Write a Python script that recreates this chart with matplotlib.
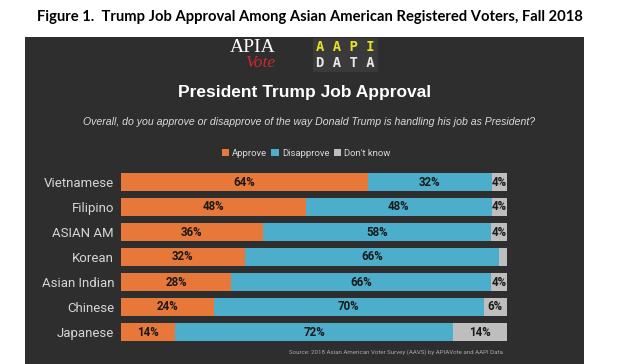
import matplotlib
matplotlib.use("Agg")
import matplotlib.pyplot as plt
from matplotlib.patches import Rectangle, Patch
import numpy as np

categories = ["Vietnamese", "Filipino", "ASIAN AM", "Korean", "Asian Indian", "Chinese", "Japanese"]
approve = [64, 48, 36, 32, 28, 24, 14]
disapprove = [32, 48, 58, 66, 66, 70, 72]
dont_know = [4, 4, 4, 2, 4, 6, 14]
series_names = ["Approve", "Disapprove", "Don't know"]

C_APP = "#E8773A"
C_DIS = "#4DAECB"
C_DK = "#BEBEBE"
BG = "#2E2E2E"
NARROW = "Roboto"

W, H = 631, 364
fig = plt.figure(figsize=(W / 100, H / 100), dpi=100)
fig.patch.set_facecolor("white")

def fx(px):
    return px / W

def fy(py):
    return 1 - py / H

# dark panel
fig.patches.append(Rectangle((fx(25), 0), fx(584) - fx(25), fy(37), transform=fig.transFigure,
                             facecolor=BG, edgecolor="none", zorder=0))

fig.text(fx(310), fy(17), "Figure 1.  Trump Job Approval Among Asian American Registered Voters, Fall 2018",
         ha="center", va="center", fontsize=10.6, fontweight="bold", family="Lato", color="black")

# logos
fig.text(fx(253), fy(48), "APIA", ha="center", va="center", fontsize=14, family="Liberation Serif",
         color="white")
fig.text(fx(260), fy(63), "Vote", ha="center", va="center", fontsize=12.5, family="Liberation Serif",
         style="italic", color="#C8282E")
fig.patches.append(Rectangle((fx(313), fy(72)), fx(378) - fx(313), fy(38) - fy(72), transform=fig.transFigure,
                             facecolor="#3A3A3A", edgecolor="none", zorder=1))
fig.text(fx(345), fy(47), "A A P I", ha="center", va="center", fontsize=10, family="DejaVu Sans Mono",
         fontweight="bold", color="#E6E221", zorder=2)
fig.text(fx(345), fy(63), "D A T A", ha="center", va="center", fontsize=10, family="DejaVu Sans Mono",
         fontweight="bold", color="#E8E8E8", zorder=2)

fig.text(fx(305), fy(92), "President Trump Job Approval", ha="center", va="center", fontsize=12.5,
         fontweight="bold", family="Liberation Sans", color="white")
fig.text(fx(309), fy(122), "Overall, do you approve or disapprove of the way Donald Trump is handling his job as President?",
         ha="center", va="center", fontsize=7.6, style="italic", family="Liberation Sans", color="#DADADA")

handles = [Patch(facecolor=c, edgecolor="none") for c in (C_APP, C_DIS, C_DK)]
leg = fig.legend(handles, series_names, loc="center", bbox_to_anchor=(fx(306), fy(153)), ncol=3,
                 frameon=False, handlelength=0.8, handleheight=0.8, handletextpad=0.3,
                 columnspacing=0.45, prop={"family": NARROW, "size": 6.8})
for t in leg.get_texts():
    t.set_color("#DADADA")

# bars axes
ax = fig.add_axes([fx(121), fy(344.5), fx(507) - fx(121), 175 / H])
ax.set_zorder(3)
ax.set_facecolor("none")
y = np.arange(len(categories))
app = np.array(approve, float)
dis = np.array(disapprove, float)
dk = np.array(dont_know, float)
tot = app + dis + dk
a_s, d_s, k_s = app / tot * 100, dis / tot * 100, dk / tot * 100

h = 0.7
ax.barh(y, a_s, height=h, color=C_APP, edgecolor="none")
ax.barh(y, d_s, left=a_s, height=h, color=C_DIS, edgecolor="none")
ax.barh(y, k_s, left=a_s + d_s, height=h, color=C_DK, edgecolor="none")

lab_kw = dict(ha="center", va="center", fontsize=8.3, fontweight="bold", family=NARROW,
              color="#1A1A1A")
for i in range(len(categories)):
    ax.text(a_s[i] / 2, y[i], f"{approve[i]}%", **lab_kw)
    ax.text(a_s[i] + d_s[i] / 2, y[i], f"{disapprove[i]}%", **lab_kw)
    if dont_know[i] >= 3:
        ax.text(a_s[i] + d_s[i] + k_s[i] / 2, y[i], f"{dont_know[i]}%", **lab_kw)

ax.set_xlim(0, 100)
ax.set_ylim(len(categories) - 0.5, -0.5)
ax.set_yticks(y)
ax.set_yticklabels(categories, family=NARROW, fontsize=9.5, color="#D5D5D5")
ax.tick_params(axis="y", length=0, pad=5)
ax.set_xticks([])
for s in ax.spines.values():
    s.set_visible(False)

fig.text(fx(503), fy(352), "Source: 2018 Asian American Voter Survey (AAVS) by APIAVote and AAPI Data",
         ha="right", va="center", fontsize=4.4, family=NARROW, color="#A8A8A8")

fig.savefig("out.png", dpi=100, facecolor=fig.get_facecolor())
